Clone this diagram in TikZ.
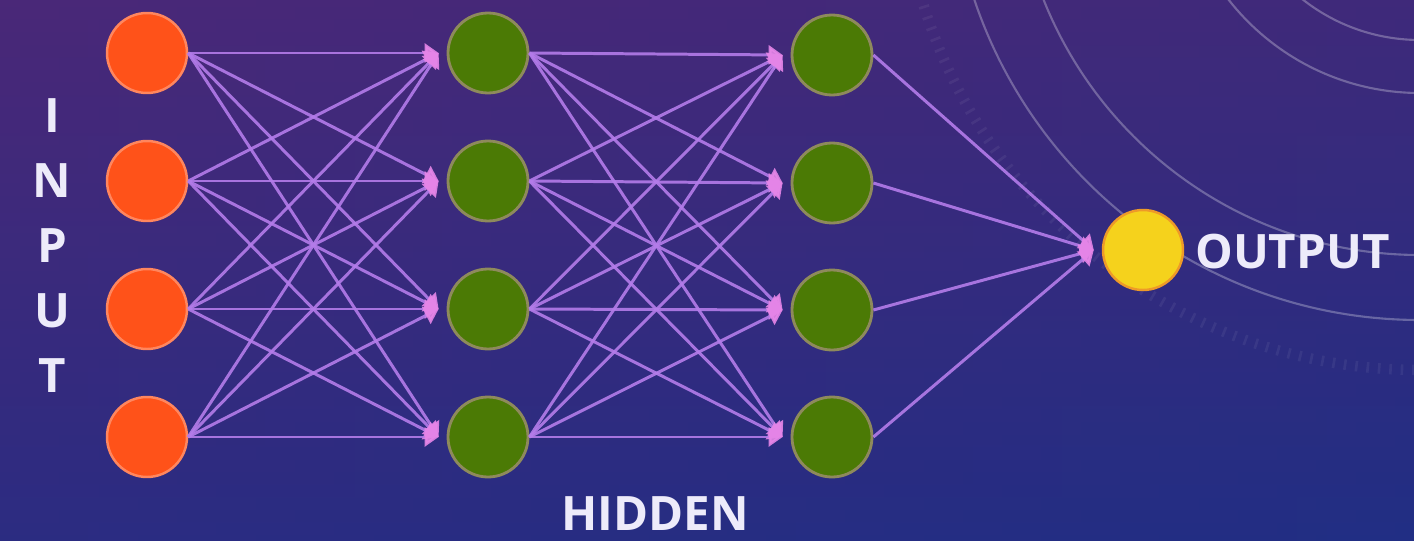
\documentclass[tikz,border=0pt]{standalone}
\usepackage{fontspec}
\setmainfont{Open Sans}
\usetikzlibrary{arrows.meta,positioning}
\definecolor{netbgtop}{HTML}{4A2878}
\definecolor{netbgbot}{HTML}{1F2E86}
\definecolor{netbgright}{HTML}{262E80}
\definecolor{netlink}{HTML}{B47CEA}
\definecolor{nettip}{HTML}{E585E8}
\definecolor{netinput}{HTML}{FF5219}
\definecolor{nethidden}{HTML}{4B7A05}
\definecolor{nethiddenrim}{HTML}{8E8A5C}
\definecolor{netoutput}{HTML}{F5D21C}
\definecolor{netoutputrim}{HTML}{EE9A28}
\definecolor{nettext}{HTML}{EDEBFA}

\begin{document}
\begin{tikzpicture}[
  x=0.02cm, y=-0.02cm,
  neuron/.style={circle, minimum size=1.6cm, inner sep=0pt},
  innode/.style={neuron, fill=netinput, draw=netinput!70!white, line width=1.4pt},
  hidnode/.style={neuron, fill=nethidden, draw=nethiddenrim, line width=1.6pt},
  outnode/.style={neuron, fill=netoutput, draw=netoutputrim, line width=1.4pt},
  link/.style={draw=netlink, line width=1.7pt, opacity=0.9,
               -{Triangle[length=2.8mm, width=3.8mm, color=nettip]}},
  ring/.style={draw=white, opacity=0.28, line width=1.2pt},
  caption/.style={text=nettext, font=\fontsize{27}{37}\selectfont\bfseries, inner sep=0pt}
]
\useasboundingbox (0,0) rectangle (1414,541);

% backdrop
\shade[top color=netbgtop, bottom color=netbgbot] (0,0) rectangle (1414,541);
\shade[left color=netbgtop, right color=netbgright, opacity=0.3] (0,0) rectangle (1414,541);
\begin{scope}
  \clip (0,0) rectangle (1414,541);
  \foreach \r in {470,405,243,190}
    \draw[ring] (1420,-150) circle[radius=\r];
  \draw[draw=white, opacity=0.06, line width=6pt, dash pattern=on 1.5pt off 5pt]
    (1420,-150) circle[radius=520];
\end{scope}

% layers
\node[innode] (i1) at (147,53) {};
\node[innode] (i2) at (147,181) {};
\node[innode] (i3) at (147,309) {};
\node[innode] (i4) at (147,437) {};

\node[hidnode] (a1) at (488,53) {};
\node[hidnode] (a2) at (488,181) {};
\node[hidnode] (a3) at (488,309) {};
\node[hidnode] (a4) at (488,437) {};

\node[hidnode] (b1) at (832,55) {};
\node[hidnode] (b2) at (832,183) {};
\node[hidnode] (b3) at (832,310) {};
\node[hidnode] (b4) at (832,437) {};

\node[outnode] (out) at (1143,250) {};

% arrow heads meet just left of each neuron
\foreach \n in {a1,a2,a3,a4,b1,b2,b3,b4,out}
  \coordinate (\n-in) at ([xshift=-0.16cm]\n.west);

% connections
\foreach \s in {1,...,4}
  \foreach \t in {1,...,4} {
    \draw[link] (i\s.east) -- (a\t-in);
    \draw[link] (a\s.east) -- (b\t-in);
  }
\foreach \s in {1,...,4}
  \draw[link] (b\s.east) -- (out-in);

% labels
\node[caption, align=center] (inputlbl) at (52,246) {I\\N\\P\\U\\T};
\node[caption] (hiddenlbl) at (655,514) {HIDDEN};
\node[caption, anchor=west] (outputlbl) at (1195,252) {OUTPUT};
\end{tikzpicture}
\end{document}
